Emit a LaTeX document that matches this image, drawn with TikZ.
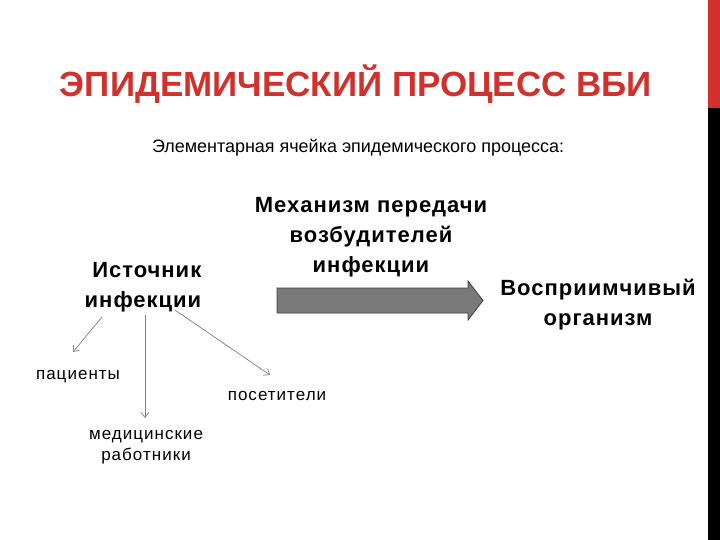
\documentclass[tikz,border=0pt]{standalone}
\usepackage{fontspec}
\setmainfont{Liberation Sans}
\newfontfamily\spacedfont[LetterSpace=4.5]{Liberation Sans}
\newfontfamily\smallspacedfont[LetterSpace=6]{Liberation Sans}
\usetikzlibrary{arrows.meta,calc}
\definecolor{titlered}{HTML}{D0312D}
\newsavebox\fitbox
\newcommand\fitx[2]{\sbox\fitbox{#2}\pgfmathsetmacro\fitfactor{#1/\wd\fitbox}\scalebox{\fitfactor}[1]{\usebox\fitbox}}
\begin{document}
\begin{tikzpicture}[x=1pt,y=-1pt,
  bold/.style={font=\spacedfont\fontsize{22}{30}\selectfont\bfseries, align=center, inner sep=0pt},
  small/.style={font=\smallspacedfont\fontsize{17}{21}\selectfont, align=center, inner sep=0pt},
  thin/.style={draw=gray, line width=0.7pt, -{Straight Barb[length=5pt,width=8pt]}}]
\useasboundingbox (0,0) rectangle (720,540);
\fill[white] (0,0) rectangle (720,540);
\fill[titlered] (708,0) rectangle (720,108);
\fill[black] (708,108) rectangle (720,540);
\node[inner sep=0pt, text=titlered, font=\fontsize{35}{40}\selectfont\bfseries] (title) at (356,84) {\fitx{592}{ЭПИДЕМИЧЕСКИЙ ПРОЦЕСС ВБИ}};
\node[inner sep=0pt, font=\fontsize{18}{21}\selectfont] (sub) at (358,148) {\fitx{412}{Элементарная ячейка эпидемического процесса:}};
\node[bold] (mech) at (371,237) {Механизм передачи\\возбудителей\\инфекции};
\node[bold, align=right] (src) at (143,287) {Источник\\инфекции};
\node[bold] (sus) at (598,305) {Восприимчивый\\организм};
\node[small] (pat) at (78,377) {пациенты};
\node[small] (vis) at (277,396) {посетители};
\node[small] (med) at (146,447) {медицинские\\работники};
\coordinate (a) at (277,300.5);
\coordinate (b) at (483,300.5);
\draw[fill=gray!95!black, draw=gray!50!black, line width=0.8pt]
  ($(a)+(0,-12.5)$) -- ($(b)+(-15,-12.5)$) -- ($(b)+(-15,-19.5)$) -- (b)
  -- ($(b)+(-15,19.5)$) -- ($(b)+(-15,12.5)$) -- ($(a)+(0,12.5)$) -- cycle;
\coordinate (s1) at (102,317);
\coordinate (s2) at (145,315);
\coordinate (s3) at (175,310);
\coordinate (e1) at (73,352);
\coordinate (e2) at (145,418);
\coordinate (e3) at (270,375);
\draw[thin] (s1) -- (e1);
\draw[thin] (s2) -- (e2);
\draw[thin] (s3) -- (e3);
\end{tikzpicture}
\end{document}
